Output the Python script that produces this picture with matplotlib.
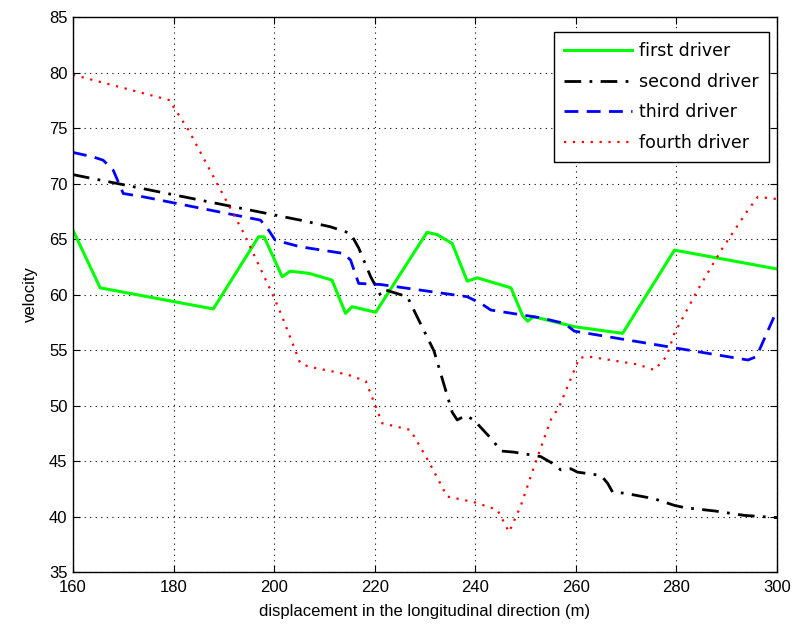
import matplotlib
matplotlib.use("Agg")
import matplotlib.pyplot as plt

first_x = [160, 165.4, 187.9, 196.9, 198.0, 199.2, 201.6, 203.2, 207.0, 211.5, 214.2, 215.5, 220.2,
           230.4, 232.4, 235.4, 238.4, 240.4, 247.1, 249.4, 250.4, 251.6, 259.7, 269.3, 279.6, 300]
first_y = [65.8, 60.6, 58.7, 65.2, 65.2, 64.0, 61.6, 62.1, 61.9, 61.3, 58.3, 58.9, 58.4,
           65.6, 65.4, 64.6, 61.2, 61.5, 60.6, 58.1, 57.6, 58.0, 57.1, 56.5, 64.0, 62.3]

second_x = [160, 205.2, 211.2, 215.2, 216.8, 219.2, 221.2, 222.2, 226.5, 228.1, 231.8, 235.4, 236.4,
            238.1, 239.7, 243.4, 245.1, 247.7, 253.0, 255.3, 257.0, 259.0, 260.3, 265.0, 266.3, 267.3,
            269.7, 275.6, 279.6, 281.6, 287.6, 293.5, 300]
second_y = [70.8, 66.7, 66.1, 65.5, 64.2, 61.6, 59.9, 60.4, 59.8, 58.3, 54.9, 49.4, 48.7,
            49.1, 48.7, 46.9, 45.9, 45.8, 45.4, 44.8, 44.2, 44.3, 44.0, 43.7, 43.0, 42.2,
            42.1, 41.6, 41.0, 40.8, 40.5, 40.1, 39.9]

third_x = [160, 164, 166, 168, 170, 174, 197.3, 198.9, 200.2, 205.2, 213.8, 215.2, 216.8, 221.2,
           238.4, 241.1, 243.1, 253.0, 257.7, 259.7, 294.2, 295.9, 300]
third_y = [72.8, 72.4, 72.1, 71.2, 69.1, 68.8, 66.7, 65.8, 64.9, 64.3, 63.7, 63.1, 61.0, 60.9,
           59.8, 59.2, 58.6, 57.9, 57.4, 56.7, 54.1, 54.4, 58.6]

fourth_x = [160, 179.3, 180, 183, 189, 194, 199.9, 201.6, 205.2, 206.9, 214.5, 218.2, 220.2, 221.5,
            227.1, 230.8, 234.4, 239.7, 244.4, 246.7, 249.0, 251.7, 255.0, 256.7, 260.7, 262.7,
            272.3, 275.6, 278.0, 279.6, 284.2, 288.9, 294.2, 296.2, 300]
fourth_y = [79.8, 77.5, 76.9, 74.8, 69.7, 65.5, 59.8, 58.0, 53.8, 53.5, 52.8, 52.2, 49.9, 48.4,
            47.8, 44.9, 41.8, 41.3, 40.6, 38.6, 40.9, 44.5, 48.7, 49.9, 54.3, 54.4,
            53.7, 53.2, 54.4, 56.5, 60.4, 64.0, 67.6, 68.8, 68.6]

labels = ["first driver", "second driver", "third driver", "fourth driver"]
x_ticks = [160, 180, 200, 220, 240, 260, 280, 300]
y_ticks = [35, 40, 45, 50, 55, 60, 65, 70, 75, 80, 85]

plt.rcParams['font.family'] = ['Liberation Sans', 'DejaVu Sans']
fig = plt.figure(figsize=(7.95, 6.35), dpi=100)
ax = fig.add_axes([0.0918, 0.0992, 0.8856, 0.874])

ax.plot(first_x, first_y, color='#00ff00', lw=2.2, ls='-', label=labels[0])
ax.plot(second_x, second_y, color='black', lw=2.0, ls=(0, (6, 3, 1, 3)), label=labels[1])
ax.plot(third_x, third_y, color='blue', lw=2.0, ls=(0, (5, 3)), label=labels[2])
ax.plot(fourth_x, fourth_y, color='red', lw=1.6, ls=(0, (1, 3)), label=labels[3])

ax.set_xlim(160, 300)
ax.set_ylim(35, 85)
ax.set_xticks(x_ticks)
ax.set_yticks(y_ticks)
ax.tick_params(direction='in', top=True, right=True, labelsize=12, length=5)
ax.tick_params(axis='x', pad=6)
ax.tick_params(axis='y', pad=4)
ax.grid(True, color='black', ls=(0, (1, 4)), lw=0.8)
for s in ax.spines.values():
    s.set_linewidth(1.0)
ax.set_xlabel("displacement in the longitudinal direction (m)", fontsize=12, labelpad=6)
ax.set_ylabel("velocity", fontsize=12, labelpad=8)

leg = ax.legend(loc='upper right', bbox_to_anchor=(0.9886, 0.973),
                prop={'family': 'DejaVu Sans', 'size': 12.5},
                fancybox=False, edgecolor='black', framealpha=1, borderaxespad=0,
                handlelength=3.9, labelspacing=0.72, borderpad=0.6, handletextpad=0.4)
leg.get_frame().set_linewidth(1.0)

fig.savefig("out.png", dpi=100)
